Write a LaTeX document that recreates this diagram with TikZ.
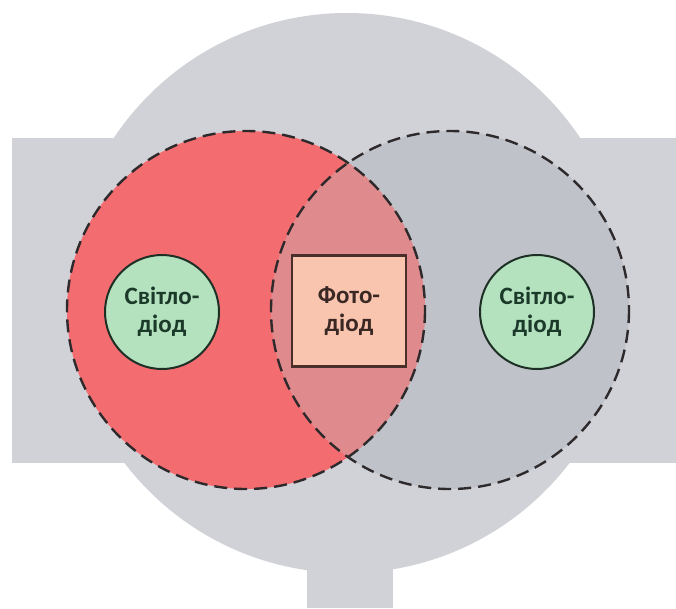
\documentclass[tikz,border=0pt]{standalone}
\usepackage{fontspec}
\setmainfont{Carlito}
\begin{document}
\begin{tikzpicture}[x=1pt,y=-1pt,
  housing/.style={fill=hgray,draw=none},
  beam/.style={circle,minimum size=358pt,inner sep=0pt},
  beamline/.style={draw=dashcol,line width=2.4pt,dash pattern=on 13pt off 7pt},
  led/.style={circle,minimum size=114pt,inner sep=0pt,fill=ledgreen,draw=ledline,line width=2pt,
    font=\fontsize{25}{28}\selectfont\bfseries,text=ledtext,align=center},
  pd/.style={rectangle,minimum width=114pt,minimum height=111pt,inner sep=0pt,fill=pdfill,draw=pdline,line width=2.2pt,
    font=\fontsize{25}{28}\selectfont\bfseries,text=pdtext,align=center}]
\definecolor{hgray}{HTML}{D1D2D7}
\definecolor{redbeam}{HTML}{F36C70}
\definecolor{graybeam}{HTML}{C0C2C9}
\definecolor{overlap}{HTML}{DF8A8C}
\definecolor{dashcol}{HTML}{2E2A2C}
\definecolor{ledgreen}{HTML}{B4E2BF}
\definecolor{ledline}{HTML}{1E3026}
\definecolor{ledtext}{HTML}{1C3A2A}
\definecolor{pdfill}{HTML}{F9C5AE}
\definecolor{pdline}{HTML}{4A2E2A}
\definecolor{pdtext}{HTML}{3A2824}

% canvas
\fill[white] (0,0) rectangle (676,608);
\useasboundingbox (0,0) rectangle (676,608);

% sensor housing: round body, side bar and stem
\fill[housing] (347,293) circle (280);
\fill[housing] (12,138) rectangle (676,463);
\fill[housing] (307,540) rectangle (393,608);

% two overlapping light beams
\node[beam,fill=graybeam] (rb) at (450,310) {};
\node[beam,fill=redbeam] (lb) at (246,310) {};
\begin{scope}
  \clip (246,310) circle (179);
  \fill[overlap] (450,310) circle (179);
\end{scope}
\draw[beamline] (450,310) circle (179);
\draw[beamline] (246,310) circle (179);

% emitters and detector
\node[led] (l1) at (162,312) {Світло-\\діод};
\node[led] (l2) at (537,312) {Світло-\\діод};
\node[pd] (pd) at (349,311) {Фото-\\діод};
\end{tikzpicture}
\end{document}
